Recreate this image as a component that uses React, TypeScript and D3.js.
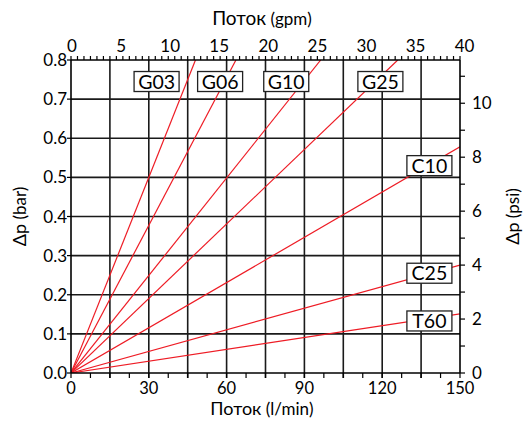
import * as d3 from 'd3'

// pressure drop curves (straight lines through origin), flow in l/min, Δp in bar
const series = ['G03', 'G06', 'G10', 'G25', 'C10', 'C25', 'T60']
const endFlow = [48, 63.6, 96.3, 126, 150, 150, 150]
const endDp = [0.8, 0.8, 0.8, 0.8, 0.578, 0.276, 0.151]

// label anchors in data units
const labelFlow = [33.0, 57.5, 83.0, 119.3, 138.2, 138.2, 138.2]
const labelDp = [0.745, 0.745, 0.745, 0.745, 0.53, 0.255, 0.133]

const barTicks = [0, 0.1, 0.2, 0.3, 0.4, 0.5, 0.6, 0.7, 0.8]
const lpmTicks = [0, 30, 60, 90, 120, 150]
const gpmTicks = [0, 5, 10, 15, 20, 25, 30, 35, 40]
const psiTicks = [0, 2, 4, 6, 8, 10]

const W = 526
const H = 421
const m = { left: 71, right: 460, top: 60, bottom: 373 }
const GPM = 3.785
const PSI = 14.5038
const FONT = 'Lato, "Open Sans", sans-serif'
const RED = '#ee1c25'
const GRID = '#1a1a1a'

export default function App() {
  const x = d3.scaleLinear().domain([0, 150]).range([m.left, m.right])
  const y = d3.scaleLinear().domain([0, 0.8]).range([m.bottom, m.top])
  const xg = d3.scaleLinear().domain([0, 150 / GPM]).range([m.left, m.right])
  const yp = d3.scaleLinear().domain([0, 0.8 * PSI]).range([m.bottom, m.top])

  const vGrid = d3.range(15, 150, 15)
  const hGrid = d3.range(1, 8).map(i => i / 10)
  const topMinor = d3.range(0, 150.01, 2.5)
  const botMinor = d3.range(0, 150.01, 7.5)
  const psiMinor = d3.range(0, 12, 1)

  const line = d3.line<[number, number]>().x(d => x(d[0])).y(d => y(d[1]))

  return (
    <svg width={W} height={H} style={{ position: 'absolute', left: 0, top: 0, background: '#fff' }} fontFamily={FONT}>
      <defs>
        <clipPath id="plot">
          <rect x={m.left} y={m.top} width={m.right - m.left} height={m.bottom - m.top} />
        </clipPath>
      </defs>

      {/* grid */}
      {vGrid.map(v => (
        <line key={'v' + v} x1={x(v)} x2={x(v)} y1={m.top} y2={m.bottom + 5} stroke={GRID} strokeWidth={1.6} />
      ))}
      {hGrid.map(v => (
        <line key={'h' + v} x1={m.left} x2={m.right} y1={y(v)} y2={y(v)} stroke={GRID} strokeWidth={1.6} />
      ))}

      {/* curves */}
      <g clipPath="url(#plot)">
        {series.map((s, i) => (
          <path key={s} d={line([[0, 0], [endFlow[i], endDp[i]]]) || ''} stroke={RED} strokeWidth={1.2} fill="none" />
        ))}
      </g>

      {/* frame */}
      <line x1={m.left} x2={m.right} y1={m.top} y2={m.top} stroke="#000" strokeWidth={1.6} />
      <line x1={m.left} x2={m.right} y1={m.bottom} y2={m.bottom} stroke="#000" strokeWidth={1.6} />
      <line x1={m.left} x2={m.left} y1={m.top} y2={m.bottom} stroke="#000" strokeWidth={1.6} />
      <line x1={m.right} x2={m.right} y1={m.top} y2={m.bottom} stroke="#000" strokeWidth={1.6} />

      {/* top axis (gpm) */}
      {topMinor.map(v => (
        <line key={'tm' + v} x1={x(v)} x2={x(v)} y1={m.top} y2={m.top - 4} stroke="#000" strokeWidth={1.2} />
      ))}
      {gpmTicks.map(v => (
        <text key={'gt' + v} x={xg(v) + 1} y={m.top - 8} fontSize={17} textAnchor="middle">{v}</text>
      ))}

      {/* bottom axis (l/min) */}
      {botMinor.map(v => (
        <line key={'bm' + v} x1={x(v)} x2={x(v)} y1={m.bottom} y2={m.bottom + 5} stroke="#000" strokeWidth={1.2} />
      ))}
      {lpmTicks.map(v => (
        <text key={'lt' + v} x={x(v)} y={m.bottom + 21} fontSize={16.5} textAnchor="middle">{v}</text>
      ))}

      {/* left axis (bar) */}
      {barTicks.map(v => (
        <g key={'bt' + v}>
          <line x1={m.left - 4} x2={m.left} y1={y(v)} y2={y(v)} stroke="#000" strokeWidth={1.2} />
          <text x={m.left - 4} y={y(v) + 6} fontSize={17} textAnchor="end">{v.toFixed(1)}</text>
        </g>
      ))}

      {/* right axis (psi) */}
      {psiMinor.map(v => (
        <line key={'pm' + v} x1={m.right} x2={m.right + 5} y1={yp(v)} y2={yp(v)} stroke="#000" strokeWidth={1.2} />
      ))}
      {psiTicks.map(v => (
        <text key={'pt' + v} x={m.right + 12} y={yp(v) + 6} fontSize={17} textAnchor="start">{v}</text>
      ))}

      {/* series labels */}
      {series.map((s, i) => (
        <g key={'lb' + s} transform={`translate(${x(labelFlow[i])},${y(labelDp[i])})`}>
          <rect x={-22.5} y={-10} width={45} height={20} fill="#fff" stroke="#222" strokeWidth={1.3} />
          <text x={0} y={7} fontSize={19.5} textAnchor="middle">{s}</text>
        </g>
      ))}

      {/* axis titles */}
      <text x={262} y={25} textAnchor="middle">
        <tspan fontSize={19}>Поток</tspan>
        <tspan fontSize={17}> (gpm)</tspan>
      </text>
      <text x={262} y={415} textAnchor="middle">
        <tspan fontSize={18}>Поток</tspan>
        <tspan fontSize={17}> (l/min)</tspan>
      </text>
      <text transform={`translate(26,${(m.top + m.bottom) / 2}) rotate(-90)`} textAnchor="middle">
        <tspan fontSize={18}>Δp</tspan>
        <tspan fontSize={17}> (bar)</tspan>
      </text>
      <text transform={`translate(519,${(m.top + m.bottom) / 2}) rotate(-90)`} textAnchor="middle">
        <tspan fontSize={18}>Δp</tspan>
        <tspan fontSize={17}> (psi)</tspan>
      </text>
    </svg>
  )
}
